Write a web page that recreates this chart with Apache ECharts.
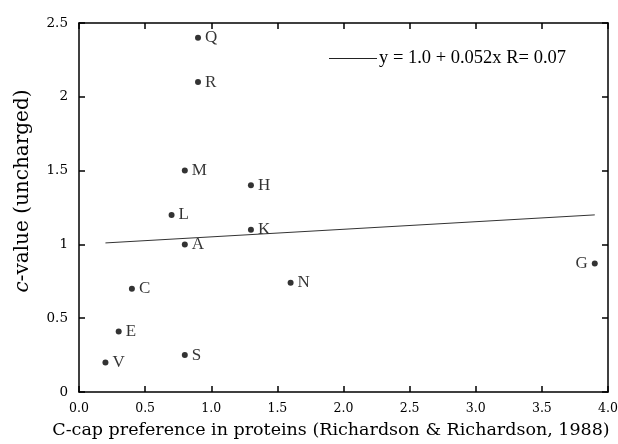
<!DOCTYPE html>
<html><head><meta charset="utf-8">
<script src="https://cdn.jsdelivr.net/npm/echarts@6/dist/echarts.min.js"></script>
<style>html,body{margin:0;padding:0;background:#fff}#c{width:618px;height:444px}</style>
</head><body><div id="c"></div>
<script>
var names = ['Q','R','M','H','L','K','A','C','N','G','E','S','V'];
var xVals = [0.9, 0.9, 0.8, 1.3, 0.7, 1.3, 0.8, 0.4, 1.6, 3.9, 0.3, 0.8, 0.2];
var yVals = [2.4, 2.1, 1.5, 1.4, 1.2, 1.1, 1.0, 0.7, 0.74, 0.87, 0.41, 0.25, 0.2];
var fitX = [0.2, 3.9];
var fitY = [1.01, 1.20];
var fitLabel = 'y = 1.0 + 0.052x R= 0.07';
var xTitle = 'C-cap preference in proteins (Richardson & Richardson, 1988)';
var yTitle = '{i|c}-value (uncharged)';

var font = '"Liberation Serif", "DejaVu Serif", serif';
var wideFont = '"DejaVu Serif", "Liberation Serif", serif';
var pts = names.map(function(n,i){
  var d = {name:n, value:[xVals[i], yVals[i]]};
  if (n === 'G') d.label = {position:'left'};
  return d;
});
var axisCommon = {
  min:0, interval:0.5, splitLine:{show:false},
  axisLine:{show:true, onZero:false, lineStyle:{color:'#000', width:1.5}},
  axisTick:{show:true, inside:true, length:6, lineStyle:{color:'#000', width:1.5}}
};
var chart = echarts.init(document.getElementById('c'), null, {renderer:'canvas'});
chart.setOption({
  backgroundColor:'#fff',
  animation:false,
  grid:{left:79, right:10, top:23, bottom:52, containLabel:false, outerBoundsMode:'none'},
  legend:{
    data:[{name:fitLabel, icon:'rect'}], left:324, top:44, itemWidth:48, itemHeight:1,
    itemStyle:{color:'#222'},
    textStyle:{fontFamily:font, fontSize:18.5, color:'#000', padding:[0,0,0,-3]}
  },
  graphic:[
    {type:'text', x:331, y:421, z:10,
      style:{text:xTitle, fontFamily:wideFont, fontSize:17.5, fill:'#000',
        align:'center', verticalAlign:'top'}},
    {type:'text', rotation:Math.PI/2, x:13, y:191, z:10,
      style:{text:yTitle, fontFamily:wideFont, fontSize:20, fill:'#000',
        align:'center', verticalAlign:'top',
        rich:{i:{fontFamily:wideFont, fontSize:20, fontStyle:'italic', fill:'#000'}}}}
  ],
  xAxis:[
    Object.assign({}, axisCommon, {type:'value', max:4, position:'bottom',
      axisLabel:{fontFamily:wideFont, fontSize:12.5, color:'#000', margin:10,
        formatter:function(v){return v.toFixed(1);}}}),
    Object.assign({}, axisCommon, {type:'value', max:4, position:'top', axisLabel:{show:false}})
  ],
  yAxis:[
    Object.assign({}, axisCommon, {type:'value', max:2.5, position:'left',
      axisLabel:{fontFamily:wideFont, fontSize:13.5, color:'#000', margin:11}}),
    Object.assign({}, axisCommon, {type:'value', max:2.5, position:'right', axisLabel:{show:false}})
  ],
  series:[
    {type:'scatter', name:'pts', data:pts, symbol:'circle', symbolSize:6,
      itemStyle:{color:'#000'},
      label:{show:true, position:'right', distance:4, formatter:'{b}',
        fontFamily:font, fontSize:17, color:'#000'}},
    {type:'line', name:fitLabel, data:fitX.map(function(x,i){return [x, fitY[i]];}),
      symbol:'none', lineStyle:{color:'#333', width:1}, itemStyle:{color:'#333'}}
  ]
});
</script></body></html>
